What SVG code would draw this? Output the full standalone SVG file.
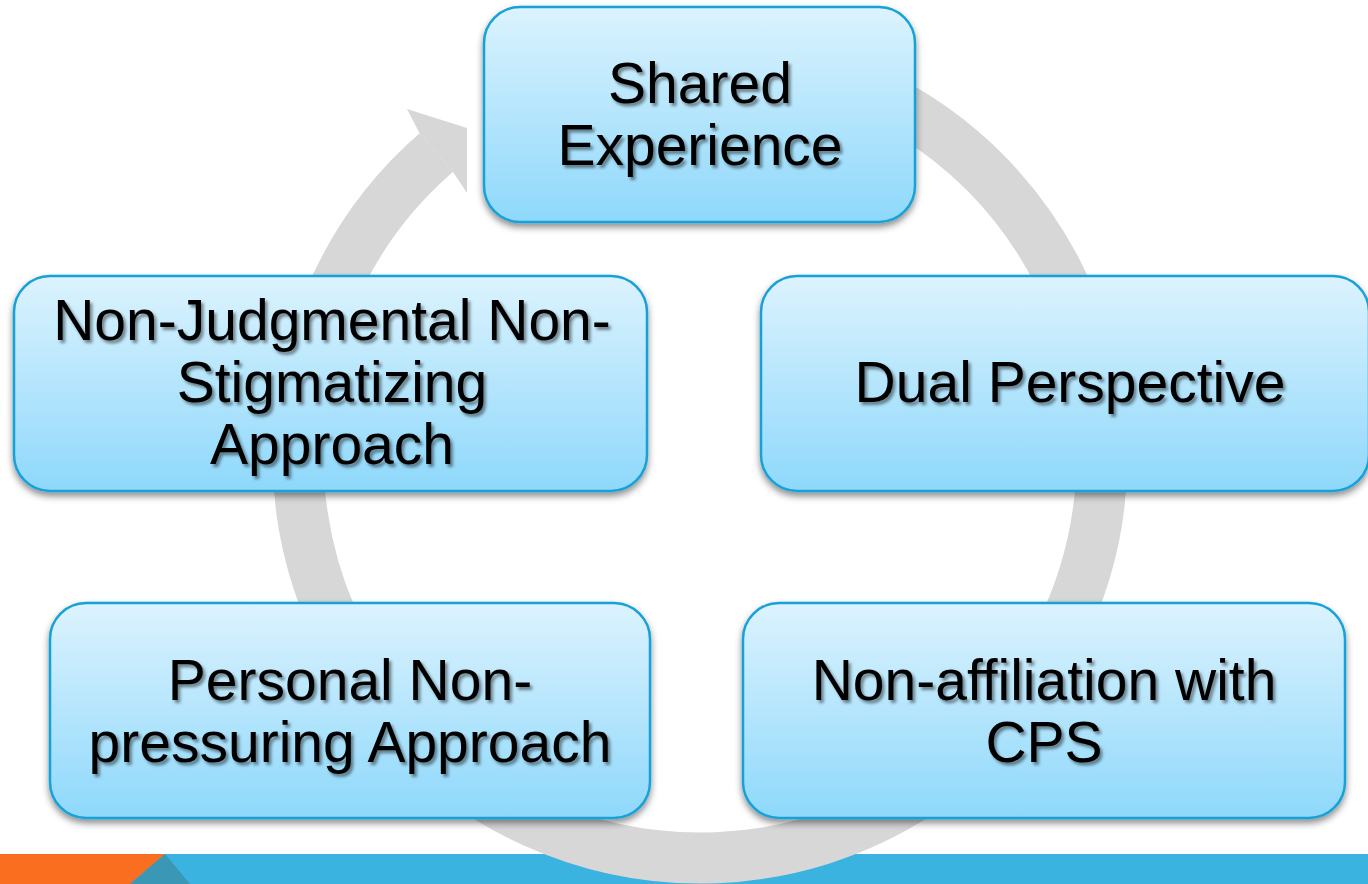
<svg xmlns="http://www.w3.org/2000/svg" width="1368" height="884" viewBox="0 0 1368 884">
<defs>
<linearGradient id="boxGrad" x1="0" y1="0" x2="0" y2="1">
<stop offset="0" stop-color="#dcf3fe"/>
<stop offset="1" stop-color="#8ed8fb"/>
</linearGradient>
<filter id="boxShadow" x="-10%" y="-10%" width="120%" height="130%">
<feDropShadow dx="0" dy="4" stdDeviation="3.5" flood-color="#000" flood-opacity="0.45"/>
</filter>
<filter id="textShadow" x="-10%" y="-20%" width="120%" height="150%">
<feDropShadow dx="2.5" dy="3" stdDeviation="1.5" flood-color="#000" flood-opacity="0.45"/>
</filter>
<style>
.box{fill:url(#boxGrad);stroke:#17a1d8;stroke-width:2.5;filter:url(#boxShadow)}
.lbl{font-family:"Liberation Sans",Arial,sans-serif;font-size:57px;fill:#000;text-anchor:middle;filter:url(#textShadow)}
.ring{fill:none;stroke:#d7d7d7;stroke-width:51}
</style>
</defs>
<rect width="1368" height="884" fill="#fff"/>
<g id="footer">
<polygon points="0,854 1368,854 1368,884 0,884" fill="#3ab3e0"/>
<polygon points="0,854 165,854 130,884 0,884" fill="#f96e1f"/>
<polygon points="165,854 190,884 130,884" fill="#3a97b6"/>
</g>
<g id="connectors">
<path class="ring" d="M 530.1 91.7 A 402 402 0 1 1 436.3 152.6"/>
<polygon points="419.9,133.7 407,109 467,128 467,193 452.7,171.5" fill="#d7d7d7"/>
</g>
<g id="node-shared">
<rect class="box" x="484" y="7" width="431" height="215" rx="36"/>
<text class="lbl" x="700" y="103">Shared</text>
<text class="lbl" x="700" y="165">Experience</text>
</g>
<g id="node-nonjudgmental">
<rect class="box" x="14" y="276" width="633" height="215" rx="36"/>
<text class="lbl" x="332" y="340">Non-Judgmental Non-</text>
<text class="lbl" x="332" y="402">Stigmatizing</text>
<text class="lbl" x="332" y="464">Approach</text>
</g>
<g id="node-dual">
<rect class="box" x="761" y="276" width="608" height="215" rx="36"/>
<text class="lbl" x="1070" y="402">Dual Perspective</text>
</g>
<g id="node-personal">
<rect class="box" x="50" y="603" width="600" height="215" rx="36"/>
<text class="lbl" x="350" y="700">Personal Non-</text>
<text class="lbl" x="350" y="762">pressuring Approach</text>
</g>
<g id="node-nonaffiliation">
<rect class="box" x="743" y="603" width="602" height="215" rx="36"/>
<text class="lbl" x="1044" y="700">Non-affiliation with</text>
<text class="lbl" x="1044" y="762">CPS</text>
</g>
</svg>
